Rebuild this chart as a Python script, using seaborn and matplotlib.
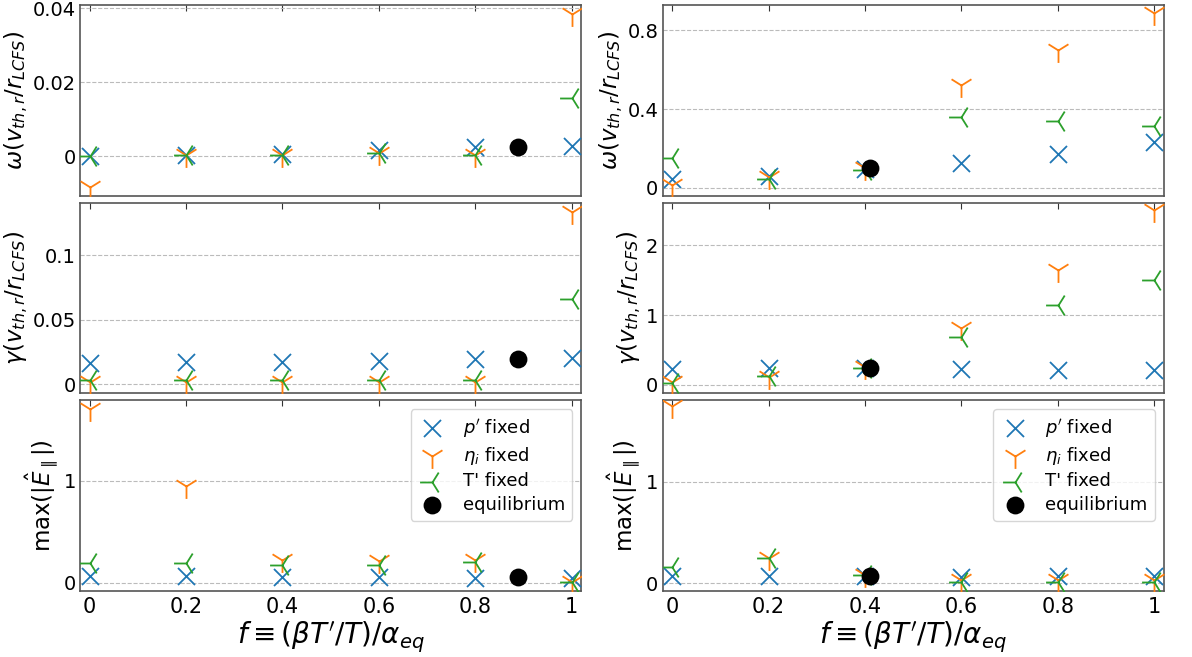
import numpy as np
import pandas as pd
import matplotlib
matplotlib.use('Agg')
import matplotlib.pyplot as plt
from matplotlib.ticker import FuncFormatter
import seaborn as sns

# scan parameter f
f_vals = [0.0, 0.2, 0.4, 0.6, 0.8, 1.0]

# left column (equilibrium at f ~ 0.89)
omega_p_left = [0.0, 0.0003, 0.0007, 0.0016, 0.0025, 0.0027]
omega_eta_left = [-0.0082, 0.0005, 0.0005, 0.0008, 0.0003, 0.0386]
omega_T_left = [0.0, 0.0003, 0.0003, 0.0008, 0.0003, 0.0159]
gamma_p_left = [0.0168, 0.0171, 0.0176, 0.0184, 0.0194, 0.0202]
gamma_eta_left = [0.0015, 0.0018, 0.0018, 0.0018, 0.0018, 0.134]
gamma_T_left = [0.003, 0.003, 0.003, 0.003, 0.003, 0.0663]
epar_p_left = [0.065, 0.065, 0.06, 0.052, 0.05, 0.05]
epar_eta_left = [1.70, 0.945, 0.22, 0.21, 0.22, 0.01]
epar_T_left = [0.195, 0.195, 0.175, 0.17, 0.205, 0.01]
eq_f_left = 0.889
eq_left = [0.0025, 0.0195, 0.052]

# right column (equilibrium at f ~ 0.41)
omega_p_right = [0.046, 0.063, 0.097, 0.125, 0.173, 0.232]
omega_eta_right = [0.015, 0.054, 0.10, 0.52, 0.70, 0.885]
omega_T_right = [0.153, 0.046, 0.092, 0.36, 0.337, 0.312]
gamma_p_right = [0.23, 0.24, 0.24, 0.23, 0.22, 0.215]
gamma_eta_right = [0.04, 0.12, 0.25, 0.82, 1.65, 2.51]
gamma_T_right = [0.03, 0.13, 0.24, 0.68, 1.14, 1.50]
epar_p_right = [0.07, 0.07, 0.07, 0.065, 0.07, 0.07]
epar_eta_right = [1.74, 0.25, 0.08, 0.03, 0.03, 0.03]
epar_T_right = [0.165, 0.245, 0.08, 0.015, 0.015, 0.015]
eq_f_right = 0.41
eq_right = [0.10, 0.24, 0.075]

ylabels = [r'$\omega(v_{th,r}/r_{LCFS})$', r'$\gamma(v_{th,r}/r_{LCFS})$',
           r'max$(|\hat{E}_\parallel|)$']
xlabel = r'$f \equiv (\beta T^{\prime}/T)/\alpha_{eq}$'

ylims_left = [(-0.0106, 0.0409), (-0.007, 0.141), (-0.081, 1.785)]
ylims_right = [(-0.039, 0.927), (-0.12, 2.61), (-0.075, 1.80)]
yticks_left = [[0, 0.02, 0.04], [0, 0.05, 0.1], [0, 1]]
yticks_right = [[0, 0.4, 0.8], [0, 1, 2], [0, 1]]

series_style = [
    (r"$p'$ fixed", 'x', 150, '#1f77b4'),
    (r'$\eta_i$ fixed', '1', 320, '#ff7f0e'),
    ("T' fixed", '3', 320, '#2ca02c'),
]

columns = [
    ([[omega_p_left, omega_eta_left, omega_T_left],
      [gamma_p_left, gamma_eta_left, gamma_T_left],
      [epar_p_left, epar_eta_left, epar_T_left]],
     eq_f_left, eq_left, ylims_left, yticks_left),
    ([[omega_p_right, omega_eta_right, omega_T_right],
      [gamma_p_right, gamma_eta_right, gamma_T_right],
      [epar_p_right, epar_eta_right, epar_T_right]],
     eq_f_right, eq_right, ylims_right, yticks_right),
]

sns.set_style('white', {'text.color': 'black', 'axes.labelcolor': 'black',
                        'xtick.color': 'black', 'ytick.color': 'black'})
plt.rcParams['font.family'] = ['DejaVu Sans']
plt.rcParams['mathtext.fontset'] = 'dejavusans'

fig, axes = plt.subplots(3, 2, figsize=(11.92, 6.57), dpi=100, sharex='col')
fig.subplots_adjust(left=0.0671, right=0.9765, top=0.9924, bottom=0.1005,
                    wspace=0.1617, hspace=0.0367)

fmt = FuncFormatter(lambda v, p: '%g' % v)

for col, (rows, eq_f, eq_vals, ylims, yticks) in enumerate(columns):
    for row in range(3):
        ax = axes[row, col]
        for (label, marker, size, color), yv in zip(series_style, rows[row]):
            df = pd.DataFrame({'f': f_vals, 'y': yv})
            sns.scatterplot(data=df, x='f', y='y', marker=marker, s=size,
                            color=color, linewidth=1.3, label=label, ax=ax,
                            legend=False, zorder=3)
        df_eq = pd.DataFrame({'f': [eq_f], 'y': [eq_vals[row]]})
        sns.scatterplot(data=df_eq, x='f', y='y', marker='o', s=165,
                        color='black', edgecolor='black', linewidth=0,
                        label='equilibrium', ax=ax, legend=False, zorder=4)

        ax.set_xlim(-0.02, 1.02)
        ax.set_ylim(*ylims[row])
        ax.set_yticks(yticks[row])
        ax.set_xticks(f_vals)
        ax.xaxis.set_major_formatter(fmt)
        ax.yaxis.set_major_formatter(fmt)
        ax.grid(axis='y', linestyle='--', color='#bbbbbb', linewidth=0.8)
        ax.set_axisbelow(True)
        ax.tick_params(direction='in', top=True, length=4, color='#333333')
        ax.tick_params(axis='x', labelsize=15, pad=4)
        ax.tick_params(axis='y', labelsize=14, pad=3)
        for sp in ax.spines.values():
            sp.set_color('#555555')
            sp.set_linewidth(1.2)
        ax.set_ylabel(ylabels[row], fontsize=16.5, labelpad=2)
        if row == 2:
            ax.set_xlabel(xlabel, fontsize=20, labelpad=2)
            ax.legend(loc='upper right', fontsize=13, borderpad=0.4,
                      handlelength=1.6, handletextpad=0.9, labelspacing=0.3)
        else:
            ax.set_xlabel('')

fig.savefig('out.png', dpi=100)
